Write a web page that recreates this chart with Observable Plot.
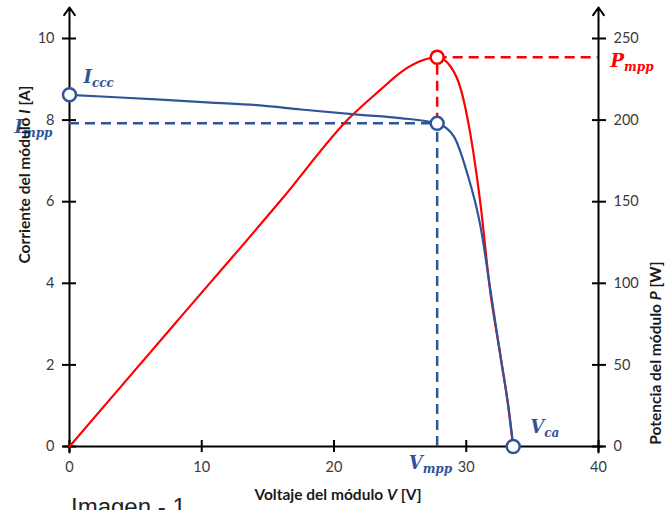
<!DOCTYPE html>
<html><head><meta charset="utf-8">
<script src="https://cdn.jsdelivr.net/npm/d3@7"></script>
<script src="https://cdn.jsdelivr.net/npm/@observablehq/plot@0.6"></script>
<style>
body{margin:0;background:#fff;}
#wrap{position:relative;width:667px;height:510px;overflow:hidden;background:#fff;}
#caption{position:absolute;left:71px;top:493px;font:24px "Liberation Sans",Arial,sans-serif;color:#222;white-space:nowrap;}
</style></head><body><div id="wrap"><div id="chart"></div><div id="caption">Imagen - 1</div></div>
<script>
// I-V curve (blue)
const ivVoltage = [0, 3.5, 6.9, 10.7, 14.4, 17.5, 22.0, 25.0, 27.8, 29.06, 30.07, 31.08, 31.83, 32.6, 33.2, 33.55];
const ivCurrent = [8.62, 8.56, 8.50, 8.43, 8.36, 8.26, 8.13, 8.05, 7.92, 7.60, 6.70, 5.39, 3.83, 2.19, 0.95, 0];
// P-V curve (red)
const pvVoltage = [0, 8, 16, 21.25, 23.5, 25.0, 26.5, 27.8, 28.8, 29.6, 30.3, 31.1, 31.8, 32.6, 33.2, 33.55];
const pvPower   = [0, 75.5, 151, 202, 218.5, 229, 236, 238.5, 233, 218.7, 192, 147, 95.8, 54.9, 23, 0];
// key points
const Isc = 8.62, Voc = 33.55, Vmpp = 27.8, Impp = 7.92, Pmpp = 238.5;
// ticks
const xTicks = [0, 10, 20, 30, 40];
const iTicks = [0, 2, 4, 6, 8, 10];
const pTicks = [0, 50, 100, 150, 200, 250];
const P_PER_A = 25; // right axis (0-250 W) aligned with left axis (0-10 A)

const blue = "#2f5597", red = "#ff0000";
const ivData = ivVoltage.map((v, k) => ({v, i: ivCurrent[k]}));
const pvData = pvVoltage.map((v, k) => ({v, p: pvPower[k] / P_PER_A}));
const mpp = [{v: Vmpp, i: Impp, p: Pmpp / P_PER_A}];
const yTop = 10.76;
const dash = {strokeDasharray: "10,6", strokeWidth: 2.5};
const labelFont = {fontFamily: "DejaVu Serif", fontWeight: "bold", fontStyle: "italic", fontSize: 18, ariaDescription: "sub-label"};
const titleFont = {fontFamily: "Lato, sans-serif", fontWeight: "bold", fontSize: 15.5, fill: "#1a1a1a", ariaDescription: "axis-title"};

const chart = Plot.plot({
  width: 667, height: 510,
  marginLeft: 69, marginRight: 69, marginTop: 38, marginBottom: 64,
  x: {domain: [0, 40]},
  y: {domain: [0, 10]},
  style: {fontFamily: "Lato, sans-serif", fontSize: "14.5px", color: "#3a3a3a", background: "white"},
  marks: [
    // axis lines
    Plot.ruleY([0], {x1: -0.45, x2: 40.4, stroke: "black", strokeWidth: 2}),
    Plot.arrow([0, 40], {x1: d => d, x2: d => d, y1: -0.15, y2: yTop, stroke: "black", strokeWidth: 2, headLength: 7, headAngle: 70}),
    // ticks + tick labels
    Plot.axisY(iTicks, {anchor: "left", tickSize: 14, dx: 7, tickPadding: 8, stroke: "black", strokeWidth: 2, label: null}),
    Plot.axisY(pTicks.map(p => p / P_PER_A), {anchor: "right", tickSize: 14, dx: -7, tickPadding: 8, stroke: "black", strokeWidth: 2, label: null, tickFormat: d => Math.round(d * P_PER_A)}),
    Plot.axisX(xTicks, {anchor: "bottom", tickSize: 12, dy: -6, tickPadding: 9, stroke: "black", strokeWidth: 2, label: null}),
    // dashed guides
    Plot.ruleY(mpp, {y: "i", x1: 0, x2: "v", stroke: blue, ...dash}),
    Plot.ruleX(mpp, {x: "v", y1: 0, y2: "i", stroke: blue, ...dash}),
    Plot.ruleX(mpp, {x: "v", y1: "i", y2: "p", stroke: red, ...dash}),
    Plot.ruleY(mpp, {y: "p", x1: "v", x2: 40, stroke: red, ...dash}),
    // curves
    Plot.line(pvData, {x: "v", y: "p", stroke: red, strokeWidth: 2.2, curve: "monotone-x"}),
    Plot.line(ivData, {x: "v", y: "i", stroke: blue, strokeWidth: 2.2, curve: "monotone-x"}),
    // markers
    Plot.dot([{v: 0, i: Isc}, {v: Vmpp, i: Impp}, {v: Voc, i: 0}], {x: "v", y: "i", r: 6.5, fill: "white", stroke: blue, strokeWidth: 2.5}),
    Plot.dot(mpp, {x: "v", y: "p", r: 6.5, fill: "white", stroke: red, strokeWidth: 2.5}),
    // point labels
    Plot.text([{v: 0, i: Isc}], {x: "v", y: "i", text: () => "I|ccc", textAnchor: "start", dx: 14, dy: -18, fill: blue, ...labelFont}),
    Plot.text(mpp, {x: () => 0, y: "i", text: () => "I|mpp", textAnchor: "end", dx: -17, dy: 4, fill: blue, ...labelFont}),
    Plot.text(mpp, {x: () => 40, y: "p", text: () => "P|mpp", textAnchor: "start", dx: 12, dy: 4, fill: red, ...labelFont}),
    Plot.text(mpp, {x: "v", y: () => 0, text: () => "V|mpp", textAnchor: "end", dx: 15, dy: 17, fill: blue, ...labelFont}),
    Plot.text([{v: Voc, i: 0}], {x: "v", y: "i", text: () => "V|ca", textAnchor: "start", dx: 17, dy: -19, fill: blue, ...labelFont}),
    // axis titles
    Plot.text(["Voltaje del módulo |V| [V]"], {frameAnchor: "bottom", dx: 4, dy: 53, ...titleFont}),
    Plot.text(["Corriente del módulo |I| [A]"], {frameAnchor: "left", rotate: -90, dx: -44, dy: 21, ...titleFont}),
    Plot.text(["Potencia del módulo |P| [W]"], {frameAnchor: "right", rotate: -90, dx: 58, dy: 19, ...titleFont})
  ]
});

d3.select(chart).selectAll('[aria-description="sub-label"] text').each(function() {
  const t = d3.select(this);
  const [m, s] = t.text().split("|");
  t.text(null);
  t.append("tspan").text(m);
  t.append("tspan").attr("font-size", 12).attr("dy", 4).text(s);
});
d3.select(chart).selectAll('[aria-description="axis-title"] text').each(function() {
  const t = d3.select(this);
  const parts = t.text().split("|");
  t.text(null);
  parts.forEach((p, k) => t.append("tspan").attr("font-style", k === 1 ? "italic" : null).text(p));
});

document.getElementById("chart").appendChild(chart);
</script>
</body></html>
